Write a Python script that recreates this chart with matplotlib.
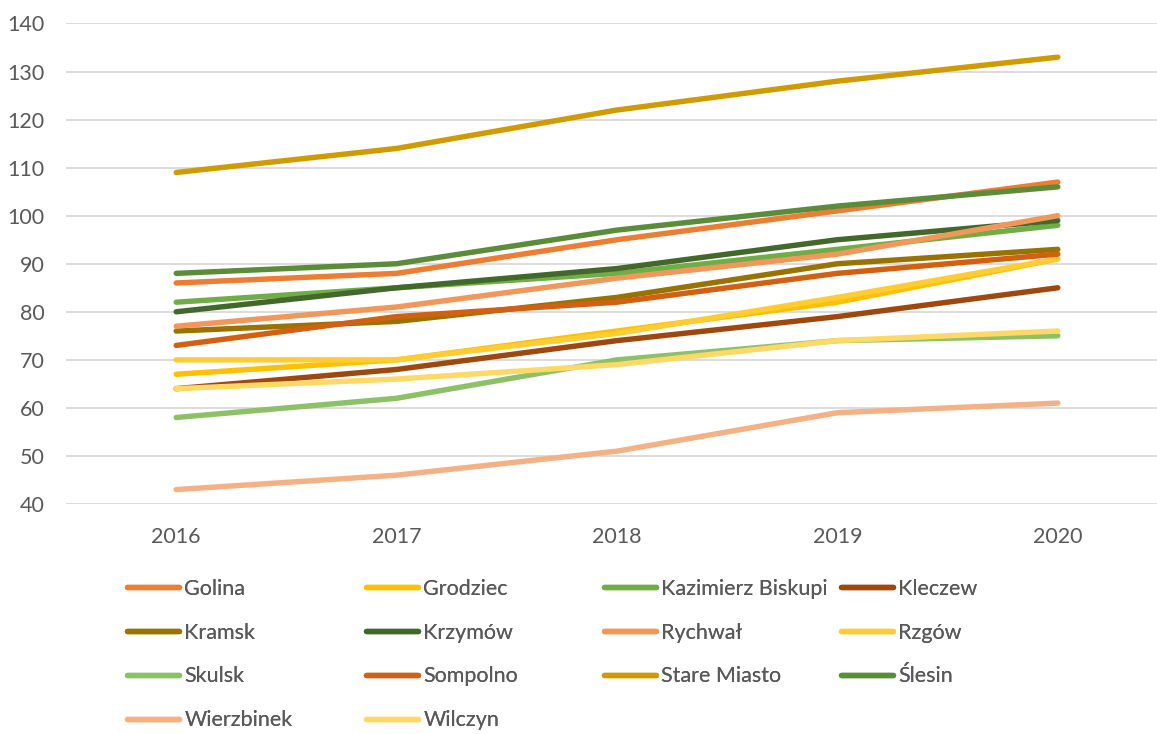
import matplotlib
matplotlib.use("Agg")
import matplotlib.pyplot as plt

plt.rcParams['font.family'] = ['Lato', 'DejaVu Sans']

years = ["2016", "2017", "2018", "2019", "2020"]
names = ["Golina", "Grodziec", "Kazimierz Biskupi", "Kleczew", "Kramsk", "Krzymów",
         "Rychwał", "Rzgów", "Skulsk", "Sompolno", "Stare Miasto", "Ślesin",
         "Wierzbinek", "Wilczyn"]

golina = [86, 88, 95, 101, 107]
grodziec = [67, 70, 76, 82, 91]
kazimierz = [82, 85, 88, 93, 98]
kleczew = [64, 68, 74, 79, 85]
kramsk = [76, 78, 83, 90, 93]
krzymow = [80, 85, 89, 95, 99]
rychwal = [77, 81, 87, 92, 100]
rzgow = [70, 70, 75.5, 83, 91]
skulsk = [58, 62, 70, 74, 75]
sompolno = [73, 79, 82, 88, 92]
stare_miasto = [109, 114, 122, 128, 133]
slesin = [88, 90, 97, 102, 106]
wierzbinek = [43, 46, 51, 59, 61]
wilczyn = [64, 66, 69, 74, 76]

series = [golina, grodziec, kazimierz, kleczew, kramsk, krzymow, rychwal, rzgow,
          skulsk, sompolno, stare_miasto, slesin, wierzbinek, wilczyn]
colors = ["#ED7D31", "#FFC000", "#70AD47", "#9E480E", "#997300", "#43682B",
          "#F1975A", "#FFCD33", "#8CC168", "#D26012", "#D09B00", "#5B8C3A",
          "#F4B183", "#FFD966"]

W, H = 1157, 734
FS = 15.5
fig = plt.figure(figsize=(W / 100, H / 100), dpi=100)
ax = fig.add_axes([66 / W, 230 / H, (1168 - 66) / W, (710.5 - 230) / H])

x = list(range(len(years)))
handles = []
for name, vals, c in zip(names, series, colors):
    ln, = ax.plot(x, vals, color=c, lw=3.9, solid_capstyle='round',
                  solid_joinstyle='round', label=name, clip_on=False)
    handles.append(ln)

ax.set_xlim(-0.5, len(years) - 0.5)
ax.set_ylim(40, 140)
ax.set_yticks(range(40, 141, 10))
ax.set_xticks(x)
ax.set_xticklabels(years)
ax.grid(axis='y', color='#D9D9D9', lw=1.3)
ax.set_axisbelow(True)
for s in ax.spines.values():
    s.set_visible(False)
ax.tick_params(axis='both', length=0, labelsize=FS, labelcolor='#595959')
ax.tick_params(axis='y', pad=15.5)
ax.tick_params(axis='x', pad=16.5)

col_x = [127, 366, 604, 841]
for ci in range(4):
    idx = list(range(ci, len(names), 4))
    leg = fig.legend([handles[i] for i in idx], [names[i] for i in idx],
                     loc='upper left', bbox_to_anchor=(col_x[ci] / W, 1 - 579 / H),
                     frameon=False, borderpad=0, borderaxespad=0,
                     handlelength=2.4, handletextpad=0.27, labelspacing=1.1,
                     fontsize=FS, labelcolor='#595959')
    fig.add_artist(leg)

fig.savefig("out.png", dpi=100)
